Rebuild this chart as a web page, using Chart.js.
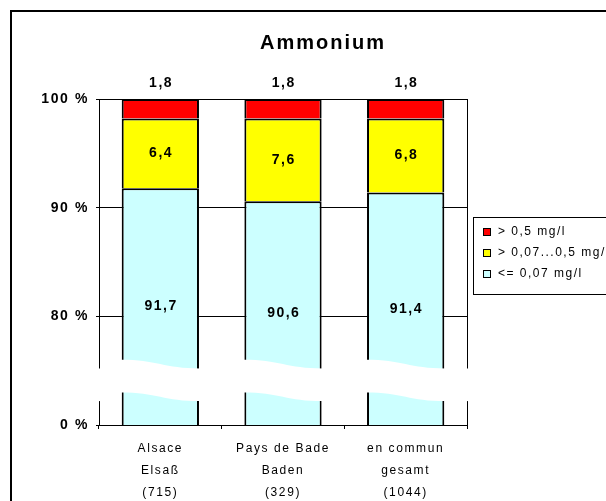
<!DOCTYPE html>
<html lang="de">
<head>
<meta charset="UTF-8">
<title>Ammonium</title>
<script src="https://cdn.jsdelivr.net/npm/chart.js"></script>
<style>
  body { margin: 0; background: #fff; }
  .wrap { position: relative; width: 606px; height: 501px; }
</style>
</head>
<body>
<div class="wrap"><canvas id="grafik"></canvas></div>
<script>
  const regionen = [['Alsace', 'Elsaß', '(715)'], ['Pays de Bade', 'Baden', '(329)'], ['en commun', 'gesamt', '(1044)']];
  const niedrig = [91.7, 90.6, 91.4];   // <= 0,07 mg/l
  const mittel = [6.4, 7.6, 6.8];       // > 0,07...0,5 mg/l
  const hoch = [1.8, 1.8, 1.8];         // > 0,5 mg/l
  const serien = ['<= 0,07 mg/l', '> 0,07...0,5 mg/l', '> 0,5 mg/l'];
  const farben = ['#ccffff', '#ffff00', '#ff0000'];
  // 70 steht unterhalb des Achsenbruchs fuer 0 %
  const yWerte = [70, 80, 90, 100];
  const yTexte = ['0 %', '80 %', '90 %', '100 %'];

  const schrift = '"Liberation Sans", Arial, sans-serif';
  const summen = niedrig.map((v, i) => v + mittel[i] + hoch[i]);
  const anteil = arr => arr.map((v, i) => v / summen[i] * 100);

  const zusatz = {
    id: 'zusatz',
    beforeDraw(chart) {
      const c = chart.ctx;
      c.save();
      c.fillStyle = '#fff';
      c.fillRect(0, 0, chart.width, chart.height);
      c.restore();
      c.letterSpacing = '1.6px';
    },
    afterDatasetsDraw(chart) {
      const c = chart.ctx;
      const a = chart.chartArea;
      const y = chart.scales.y;
      c.save();
      c.letterSpacing = '0px';
      // rechte Rahmenlinie
      c.strokeStyle = '#000';
      c.lineWidth = 1;
      c.beginPath();
      c.moveTo(a.right + 0.5, a.top);
      c.lineTo(a.right + 0.5, a.bottom);
      c.stroke();

      // Achsenbruch
      const oL = y.getPixelForValue(76), oR = y.getPixelForValue(75.2);
      const uL = y.getPixelForValue(73), uR = y.getPixelForValue(72.2);
      c.fillStyle = '#fff';
      chart.getDatasetMeta(0).data.forEach(bar => {
        const x0 = bar.x - bar.width / 2 - 1, x1 = bar.x + bar.width / 2 + 1, w = x1 - x0;
        c.beginPath();
        c.moveTo(x0, oL);
        c.bezierCurveTo(x0 + w * 0.45, oL, x0 + w * 0.55, oR, x1, oR);
        c.lineTo(x1, uR);
        c.bezierCurveTo(x0 + w * 0.55, uR, x0 + w * 0.45, uL, x0, uL);
        c.closePath();
        c.fill();
      });
      c.fillRect(a.left - 2, oR, 4, uR - oR);
      c.fillRect(a.right - 2, oR, 5, uR - oR);

      // Werte
      c.font = 'bold 14px ' + schrift;
      c.fillStyle = '#000';
      c.textAlign = 'center';
      c.textBaseline = 'middle';
      c.letterSpacing = '1.5px';
      chart.data.datasets.forEach((ds, i) => {
        chart.getDatasetMeta(i).data.forEach((bar, j) => {
          const txt = ds.roh[j].toFixed(1).replace('.', ',');
          let ty;
          if (i === 2) ty = bar.y - 16;
          else ty = (bar.y + Math.min(bar.base, a.bottom)) / 2;
          c.fillText(txt, bar.x + 0.75, ty);
        });
      });
      c.restore();
    },
    afterDraw(chart) {
      const c = chart.ctx;
      const a = chart.chartArea;
      c.save();
      // aeusserer Rahmen
      c.strokeStyle = '#000';
      c.lineWidth = 2;
      c.beginPath();
      c.moveTo(11, chart.height + 5);
      c.lineTo(11, 11);
      c.lineTo(chart.width + 5, 11);
      c.stroke();

      // Titel
      c.font = 'bold 20px ' + schrift;
      c.fillStyle = '#000';
      c.textAlign = 'center';
      c.textBaseline = 'middle';
      c.letterSpacing = '2px';
      c.fillText('Ammonium', 323, 43);

      // Legende
      const lx = a.right + 6, ly = a.top + 118;
      c.lineWidth = 1;
      c.strokeRect(lx + 0.5, ly + 0.5, 200, 77);
      c.font = '12px ' + schrift;
      c.textAlign = 'left';
      c.letterSpacing = '1.5px';
      [2, 1, 0].forEach((i, k) => {
        const ry = ly + 15 + k * 21;
        c.fillStyle = chart.data.datasets[i].backgroundColor;
        c.fillRect(lx + 10.5, ry - 3.5, 7, 7);
        c.strokeRect(lx + 10.5, ry - 3.5, 7, 7);
        c.fillStyle = '#000';
        c.fillText(chart.data.datasets[i].label, lx + 25, ry);
      });
      c.restore();
    }
  };

  new Chart(document.getElementById('grafik'), {
    type: 'bar',
    data: {
      labels: regionen,
      datasets: [
        { label: serien[0], data: anteil(niedrig), roh: niedrig, backgroundColor: farben[0] },
        { label: serien[1], data: anteil(mittel), roh: mittel, backgroundColor: farben[1] },
        { label: serien[2], data: anteil(hoch), roh: hoch, backgroundColor: farben[2] }
      ]
    },
    options: {
      responsive: true,
      maintainAspectRatio: false,
      animation: false,
      layout: { padding: { top: 99, right: 139, left: 0, bottom: 0 } },
      datasets: {
        bar: {
          borderColor: '#000',
          borderWidth: 2,
          barPercentage: 0.63,
          categoryPercentage: 1
        }
      },
      plugins: {
        legend: { display: false },
        title: { display: false },
        tooltip: { enabled: false }
      },
      scales: {
        x: {
          stacked: true,
          afterFit(scale) { scale.height = 76; },
          grid: { drawOnChartArea: false, drawTicks: true, tickLength: 4, color: '#000' },
          border: { color: '#000', width: 1 },
          ticks: {
            color: '#000',
            padding: 9,
            maxRotation: 0,
            autoSkip: false,
            font: { family: schrift, size: 12, lineHeight: '22px' }
          }
        },
        y: {
          stacked: true,
          min: 70,
          max: 100,
          afterFit(scale) { scale.width = 99; },
          afterBuildTicks(scale) { scale.ticks = yWerte.map(v => ({ value: v })); },
          grid: { color: '#000', lineWidth: 1, drawTicks: true, tickLength: 3 },
          border: { color: '#000', width: 1 },
          ticks: {
            color: '#000',
            padding: 7,
            font: { family: schrift, size: 14, weight: 'bold' },
            callback: v => yTexte[yWerte.indexOf(v)]
          }
        }
      }
    },
    plugins: [zusatz]
  });
</script>
</body>
</html>
